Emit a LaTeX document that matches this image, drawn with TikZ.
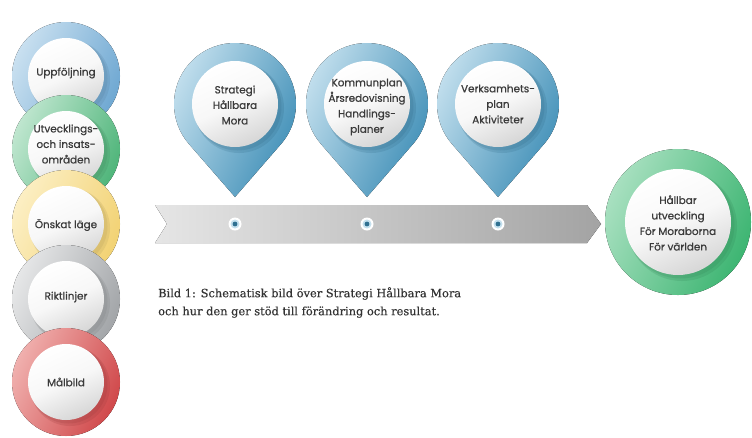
\documentclass[tikz,border=0pt]{standalone}
\usepackage{fontspec}
\setmainfont{Poppins}
\newfontfamily\lblfont{Poppins}[FakeBold=0.8]
\newfontfamily\capfont{DejaVu Serif}[FakeBold=0.3]
\definecolor{txt}{HTML}{3A3A3A}
\definecolor{pinL}{HTML}{C4E0EE}
\definecolor{pinD}{HTML}{3B8CB5}
\definecolor{bluL}{HTML}{C9E0F0}
\definecolor{bluD}{HTML}{6FA8D2}
\definecolor{grnL}{HTML}{BFE6CF}
\definecolor{grnD}{HTML}{4FB57A}
\definecolor{yelL}{HTML}{FCEFC4}
\definecolor{yelD}{HTML}{F2D273}
\definecolor{gryL}{HTML}{E6E7E8}
\definecolor{gryD}{HTML}{A2A5A8}
\definecolor{redL}{HTML}{F0B0AE}
\definecolor{redD}{HTML}{D0484A}
\definecolor{bgrL}{HTML}{A8E0C0}
\definecolor{bgrD}{HTML}{3DB572}
\tikzset{
  lbl/.style={text=txt, align=center, font=\lblfont\fontsize{10.4}{15.5}\selectfont, inner sep=0pt},
  captext/.style={text=black!80, align=left, anchor=north west, inner sep=0pt, font=\capfont\fontsize{11.4}{18}\selectfont},
}
% ring: #1 center, #2 outer radius, #3 inner radius, #4 light, #5 dark
\newcommand\myring[5]{%
  \fill[left color=#4, right color=#5, shading angle=65] #1 circle (#2);
  \fill[#5!70!black, opacity=0.18] ($#1+(4,4)$) circle (#3+2);
  \fill[#5!70!black, opacity=0.18] ($#1+(2.5,2.5)$) circle (#3+1);
  \shade[top color=white, bottom color=black!16, middle color=black!3, shading angle=25] #1 circle (#3);
}
\newcommand\mypin[2]{%
  \fill[left color=pinL, right color=pinD, shading angle=65]
    (#1,197) -- ($(#1,#2)+(41:61)$) arc[start angle=41, end angle=-221, radius=61] -- cycle;
  \fill[pinD!70!black, opacity=0.18] ($(#1,#2)+(4,4)$) circle (45);
  \fill[pinD!70!black, opacity=0.18] ($(#1,#2)+(2.5,2.5)$) circle (44);
  \shade[top color=white, bottom color=black!16, middle color=black!3, shading angle=25] (#1,#2) circle (43);
}
\newcommand\mydot[1]{%
  \fill[white] (#1,224) circle (6.5);
  \fill[pinL] (#1,224) circle (4.5);
  \fill[pinD!80!black] (#1,224) circle (2.4);
}
\usetikzlibrary{calc}
\begin{document}
\begin{tikzpicture}[x=1pt,y=-1pt]
\useasboundingbox (0,0) rectangle (752,437);
\fill[white] (0,0) rectangle (752,437);
% left column
\myring{(66,76)}{54}{38}{bluL}{bluD}
\myring{(66,149)}{54}{38}{grnL}{grnD}
\myring{(66,224)}{54}{38}{yelL}{yelD}
\myring{(66,299)}{54}{38}{gryL}{gryD}
\myring{(66,382)}{54}{38}{redL}{redD}
\node[lbl] (upp) at (66,73) {Uppföljning};
\node[lbl] (utv) at (66,144) {Utvecklings-\\och insats-\\områden};
\node[lbl] (ons) at (66,225) {Önskat läge};
\node[lbl] (rik) at (66,297) {Riktlinjer};
\node[lbl] (mal) at (66,382) {Målbild};
% band
\fill[left color=black!10, right color=black!36] (155,205) -- (587,205) -- (601,224) -- (587,243) -- (155,243) -- (167,224) -- cycle;
% pins
\mypin{235}{104}
\mypin{367}{104}
\mypin{498}{104}
\node[lbl] (str) at (235,105) {Strategi\\Hållbara\\Mora};
\node[lbl] (kom) at (367,107) {Kommunplan\\Årsredovisning\\Handlings-\\planer};
\node[lbl] (ver) at (498,104) {Verksamhets-\\plan\\Aktiviteter};
\mydot{235}
\mydot{367}
\mydot{498}
% right
\myring{(678,222)}{73}{53}{bgrL}{bgrD}
\node[lbl] (hal) at (678,223) {Hållbar\\utveckling\\För Moraborna\\För världen};
% caption
\node[captext] (caption) at (158,287) {Bild 1: Schematisk bild över Strategi Hållbara Mora\\och hur den ger stöd till förändring och resultat.};
\end{tikzpicture}
\end{document}
